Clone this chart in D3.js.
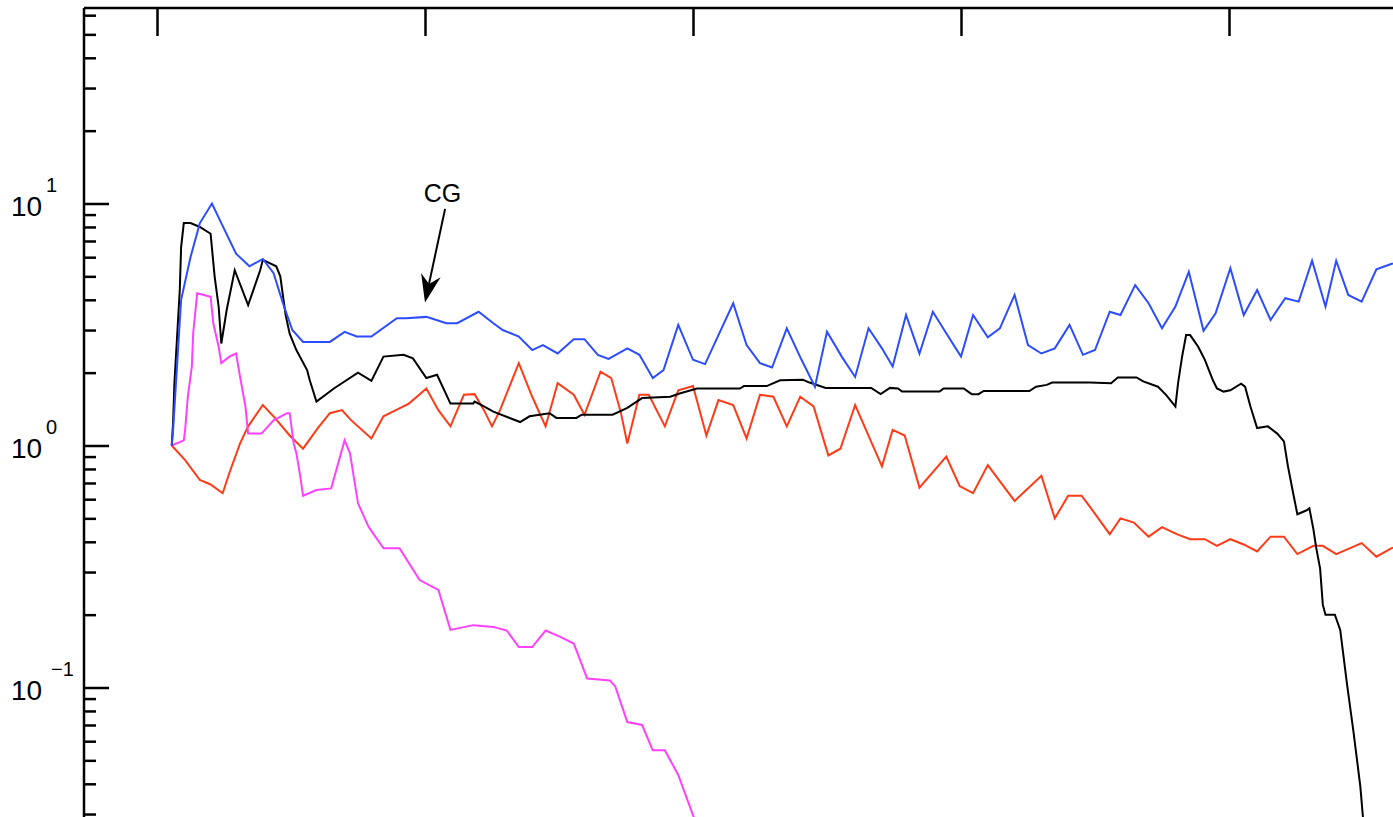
<!DOCTYPE html>
<html>
<head>
<meta charset="utf-8">
<script src="https://cdn.jsdelivr.net/npm/d3@7"></script>
<style>
  html, body { margin: 0; padding: 0; background: #fff; overflow: hidden; }
  svg { display: block; }
</style>
</head>
<body>
<div id="chart"></div>
<script>
// Residual-history traces (x = iteration, y = log scale).
const xTicks = [0, 20, 40, 60, 80];
const yMajor = [0.1, 1, 10];
const yLabels = ['\u22121', '0', '1'];

const blueX = [1.1, 1.2, 1.8, 2.5, 3.2, 4.1, 4.8, 5.9, 6.9, 7.9, 8.7, 9.4, 10.1, 10.9, 12.9, 14.0, 14.9, 16.0,
  17.9, 18.6, 20.1, 21.6, 22.4, 24.0, 25.1, 25.8, 27.0, 28.0, 28.8, 29.9, 31.1, 31.9, 32.9, 33.7, 35.1, 36.0,
  37.0, 37.8, 38.9, 40.0, 40.9, 43.0, 44.0, 45.0, 45.9, 47.0, 48.1, 49.1, 50.0, 51.1, 52.1, 53.1, 54.1, 54.9,
  55.9, 56.9, 57.9, 58.9, 60.0, 60.9, 62.0, 62.9, 64.0, 65.0, 66.0, 67.0, 68.1, 69.1, 70.0, 71.1, 71.9, 73.0,
  74.0, 75.0, 76.0, 77.0, 78.1, 79.0, 80.1, 81.1, 82.1, 83.1, 84.2, 85.2, 86.2, 87.2, 88.0, 88.9, 89.9, 91.0,
  92.1, 93.0];
const blueY = [1.0, 1.16, 4.0, 6.0, 8.3, 10.0, 8.3, 6.2, 5.5, 5.9, 5.15, 3.87, 3.0, 2.68, 2.68, 2.95, 2.82, 2.82,
  3.36, 3.36, 3.4, 3.2, 3.2, 3.57, 3.2, 3.0, 2.82, 2.48, 2.6, 2.4, 2.75, 2.75, 2.37, 2.28, 2.52, 2.37,
  1.9, 2.05, 3.15, 2.26, 2.17, 3.87, 2.6, 2.19, 2.1, 3.05, 2.26, 1.75, 2.95, 2.33, 1.92, 3.05, 2.52, 2.12,
  3.46, 2.4, 3.57, 2.91, 2.33, 3.46, 2.8, 3.05, 4.19, 2.6, 2.4, 2.52, 3.15, 2.37, 2.48, 3.57, 3.46, 4.6,
  3.87, 3.05, 3.75, 5.22, 2.98, 3.52, 5.4, 3.46, 4.39, 3.3, 4.06, 3.93, 5.8, 3.75, 5.8, 4.19, 3.93, 5.35,
  5.62, 5.8];

const blackX = [1.1, 1.2, 1.3, 1.5, 1.7, 1.8, 2.0, 2.5, 3.2, 4.0, 4.3, 4.6, 4.8, 5.2, 5.8, 6.8, 7.7, 7.9, 8.9,
  9.2, 9.6, 9.9, 10.4, 11.2, 11.4, 11.9, 13.2, 15.0, 16.0, 16.9, 18.4, 19.1, 20.1, 20.9, 21.9, 23.6, 23.7,
  24.4, 25.1, 27.1, 27.8, 29.3, 29.8, 31.3, 31.7, 34.0, 35.1, 36.2, 38.3, 39.0, 40.3, 43.5, 43.8, 45.5,
  46.5, 48.2, 48.7, 49.9, 53.3, 54.0, 54.7, 55.3, 55.6, 58.4, 58.7, 60.2, 60.8, 61.3, 61.7, 65.1, 65.6,
  66.4, 66.8, 69.6, 71.2, 71.7, 73.1, 73.6, 74.7, 75.3, 76.0, 76.2, 76.5, 76.8, 77.1, 77.7, 78.2, 78.8,
  79.1, 79.6, 80.1, 80.9, 81.2, 81.6, 82.1, 82.9, 83.6, 84.1, 84.4, 84.8, 85.1, 85.8, 86.0, 86.3, 86.5,
  86.8, 87.0, 87.2, 87.9, 88.3, 88.8, 89.3, 89.8, 90.0, 90.5];
const blackY = [1.0, 1.24, 1.81, 2.82, 4.39, 6.6, 8.3, 8.3, 8.0, 7.5, 5.0, 3.75, 2.64, 3.63, 5.3, 3.8, 5.3, 5.85, 5.5,
  5.0, 3.46, 2.9, 2.48, 2.05, 1.86, 1.52, 1.72, 2.0, 1.85, 2.33, 2.37, 2.29, 1.9, 1.96, 1.49, 1.49, 1.52,
  1.45, 1.38, 1.25, 1.32, 1.36, 1.3, 1.3, 1.34, 1.34, 1.43, 1.57, 1.59, 1.64, 1.72, 1.72, 1.76, 1.76,
  1.86, 1.87, 1.82, 1.73, 1.73, 1.63, 1.73, 1.72, 1.67, 1.67, 1.72, 1.72, 1.63, 1.63, 1.68, 1.68, 1.75,
  1.78, 1.82, 1.82, 1.81, 1.91, 1.91, 1.84, 1.75, 1.62, 1.45, 1.81, 2.33, 2.86, 2.86, 2.56, 2.26, 1.86,
  1.72, 1.67, 1.69, 1.8, 1.75, 1.45, 1.18, 1.2, 1.12, 1.04, 0.82, 0.63, 0.52, 0.54, 0.55, 0.45, 0.38,
  0.31, 0.22, 0.2, 0.2, 0.173, 0.104, 0.065, 0.039, 0.029, 0.02];

const redX = [1.1, 2.1, 3.2, 4.0, 4.9, 5.4, 6.2, 6.8, 7.9, 8.8, 9.9, 10.9, 12.0, 12.9, 13.8, 14.5, 16.0, 16.9, 17.6,
  18.8, 20.1, 21.0, 21.9, 22.9, 23.7, 24.4, 25.0, 25.6, 27.0, 28.0, 29.0, 29.9, 31.1, 31.9, 33.1, 33.9, 34.6,
  35.1, 36.0, 36.7, 37.9, 38.9, 40.0, 41.0, 41.9, 43.0, 44.0, 45.0, 46.0, 47.0, 48.0, 49.0, 50.1, 51.0,
  52.1, 54.1, 54.9, 55.8, 56.9, 58.9, 59.9, 60.9, 62.0, 64.0, 66.0, 67.0, 68.0, 69.0, 69.6, 71.1, 71.9,
  72.9, 74.0, 75.0, 76.1, 77.1, 78.2, 79.1, 80.1, 81.1, 82.1, 83.1, 84.1, 85.1, 86.3, 87.0, 88.0, 89.9,
  91.0, 92.1, 93.0];
const redY = [1.0, 0.87, 0.72, 0.69, 0.635, 0.77, 1.02, 1.2, 1.47, 1.3, 1.1, 0.97, 1.18, 1.36, 1.4, 1.27, 1.07, 1.32, 1.38,
  1.49, 1.72, 1.4, 1.2, 1.62, 1.63, 1.4, 1.2, 1.4, 2.19, 1.59, 1.2, 1.81, 1.62, 1.34, 2.02, 1.9, 1.38,
  1.02, 1.62, 1.62, 1.2, 1.69, 1.76, 1.1, 1.54, 1.47, 1.07, 1.62, 1.59, 1.2, 1.59, 1.45, 0.91, 0.97,
  1.47, 0.82, 1.16, 1.1, 0.67, 0.9, 0.68, 0.635, 0.83, 0.59, 0.75, 0.5, 0.62, 0.62, 0.56, 0.43, 0.5,
  0.48, 0.42, 0.46, 0.43, 0.41, 0.41, 0.385, 0.41, 0.39, 0.365, 0.42, 0.42, 0.356, 0.385, 0.385, 0.356, 0.395,
  0.347, 0.376, 0.39];

const magX = [1.1, 2.0, 2.1, 2.3, 2.6, 2.7, 3.0, 3.5, 4.0, 4.2, 4.6, 4.8, 5.4, 5.9, 6.2, 6.6, 6.8, 7.8, 8.7, 9.7,
  9.9, 10.2, 10.4, 10.7, 10.9, 11.9, 13.0, 14.0, 14.4, 15.0, 15.8, 16.9, 18.1, 19.6, 21.0, 21.9, 23.6, 25.1,
  26.1, 27.0, 28.0, 29.0, 30.1, 31.1, 32.1, 33.8, 34.2, 35.1, 36.2, 37.0, 37.9, 38.9, 40.0, 40.5];
const magY = [1.0, 1.05, 1.16, 1.59, 2.12, 2.91, 4.26, 4.19, 4.12, 3.2, 2.56, 2.19, 2.33, 2.4, 1.92, 1.45, 1.12, 1.12, 1.27, 1.36,
  1.36, 1.02, 0.93, 0.74, 0.62, 0.655, 0.665, 1.05, 0.93, 0.577, 0.46, 0.376, 0.376, 0.278, 0.253, 0.173, 0.181, 0.178,
  0.172, 0.147, 0.147, 0.172, 0.162, 0.152, 0.109, 0.107, 0.101, 0.072, 0.07, 0.055, 0.055, 0.0435, 0.0297, 0.025];

// CG annotation: label anchor, arrow tail and arrow tip (data units)
const cgLabel = [21.3, 10.2];
const cgTail = [21.5, 9.5];
const cgTip = [20.0, 3.9];

const SERIES = [
  { x: redX,   y: redY,   color: '#ff3b17' },
  { x: magX,   y: magY,   color: '#ff40ff' },
  { x: blackX, y: blackY, color: '#000000' },
  { x: blueX,  y: blueY,  color: '#2c4dff' },
];

const W = 1393, H = 817;
const padLeft = 84, padTop = 8;

const x = d3.scaleLinear().domain([0, 80]).range([157, 1229]);
const y = d3.scaleLog().domain([0.1, 10]).range([687.5, 203.5]);

const svg = d3.select('#chart').append('svg')
  .attr('width', W).attr('height', H)
  .attr('viewBox', `0 0 ${W} ${H}`);

svg.append('defs').append('clipPath').attr('id', 'plot')
  .append('rect').attr('x', padLeft).attr('y', padTop)
  .attr('width', W - padLeft).attr('height', H - padTop);

// Lines
const line = d3.line().x(d => x(d[0])).y(d => y(d[1]));
const g = svg.append('g').attr('clip-path', 'url(#plot)');
SERIES.forEach(s => {
  g.append('path')
    .datum(s.x.map((v, i) => [v, s.y[i]]))
    .attr('fill', 'none')
    .attr('stroke', s.color)
    .attr('stroke-width', 2)
    .attr('stroke-linejoin', 'miter')
    .attr('d', line);
});

// Top axis (ticks only, pointing down)
const topAxis = svg.append('g')
  .attr('transform', `translate(0,${padTop})`)
  .call(d3.axisTop(x).tickValues(xTicks).tickSize(-28).tickFormat(''));
topAxis.select('.domain').remove();
topAxis.selectAll('line').attr('stroke', '#000').attr('stroke-width', 2.5);

// Left axis: minor and major ticks pointing right
const yLo = y.invert(H), yHi = y.invert(padTop);
const minor = [];
for (let e = -3; e <= 2; e++) {
  for (let k = 2; k <= 9; k++) {
    const v = k * Math.pow(10, e);
    if (v > yLo && v < yHi) minor.push(v);
  }
}
const minorAxis = svg.append('g')
  .attr('transform', `translate(${padLeft},0)`)
  .call(d3.axisRight(y).tickValues(minor).tickSize(12).tickFormat(''));
minorAxis.select('.domain').remove();
minorAxis.selectAll('line').attr('stroke', '#000').attr('stroke-width', 2.5);

const majorAxis = svg.append('g')
  .attr('transform', `translate(${padLeft},0)`)
  .call(d3.axisRight(y).tickValues(yMajor).tickSize(25).tickFormat(''));
majorAxis.select('.domain').remove();
majorAxis.selectAll('line').attr('stroke', '#000').attr('stroke-width', 2.5);

// Axis lines
svg.append('line').attr('x1', padLeft).attr('x2', W).attr('y1', padTop).attr('y2', padTop)
  .attr('stroke', '#000').attr('stroke-width', 2.5);
svg.append('line').attr('x1', padLeft).attr('x2', padLeft).attr('y1', padTop).attr('y2', H)
  .attr('stroke', '#000').attr('stroke-width', 2.5);

// Tick labels 10^n
const labels = svg.append('g')
  .attr('font-family', '"Liberation Sans", Arial, sans-serif')
  .attr('fill', '#000');
yMajor.forEach((v, i) => {
  const ty = y(v);
  labels.append('text').attr('x', 11).attr('y', ty + 12.5)
    .attr('font-size', 28).text('10');
  labels.append('text').attr('x', yLabels[i].length > 1 ? 51 : 46).attr('y', ty - 12)
    .attr('font-size', 20).text(yLabels[i]);
});

// CG annotation with arrow
const ann = svg.append('g');
ann.append('text')
  .attr('x', x(cgLabel[0])).attr('y', y(cgLabel[1]) + 1)
  .attr('text-anchor', 'middle')
  .attr('font-family', '"Liberation Sans", Arial, sans-serif')
  .attr('font-size', 25)
  .text('CG');

const tx = x(cgTail[0]), ty0 = y(cgTail[1]);
const hx = x(cgTip[0]), hy = y(cgTip[1]);
const ang = Math.atan2(hy - ty0, hx - tx);
const ux = Math.cos(ang), uy = Math.sin(ang);
const nx = -uy, ny = ux;
const headLen = 28, headW = 10, notch = 19;
ann.append('line')
  .attr('x1', tx).attr('y1', ty0)
  .attr('x2', hx - ux * notch).attr('y2', hy - uy * notch)
  .attr('stroke', '#000').attr('stroke-width', 2);
ann.append('path')
  .attr('d', d3.line()([
    [hx, hy],
    [hx - ux * headLen + nx * headW, hy - uy * headLen + ny * headW],
    [hx - ux * notch, hy - uy * notch],
    [hx - ux * headLen - nx * headW, hy - uy * headLen - ny * headW],
  ]) + 'Z')
  .attr('fill', '#000');
</script>
</body>
</html>
